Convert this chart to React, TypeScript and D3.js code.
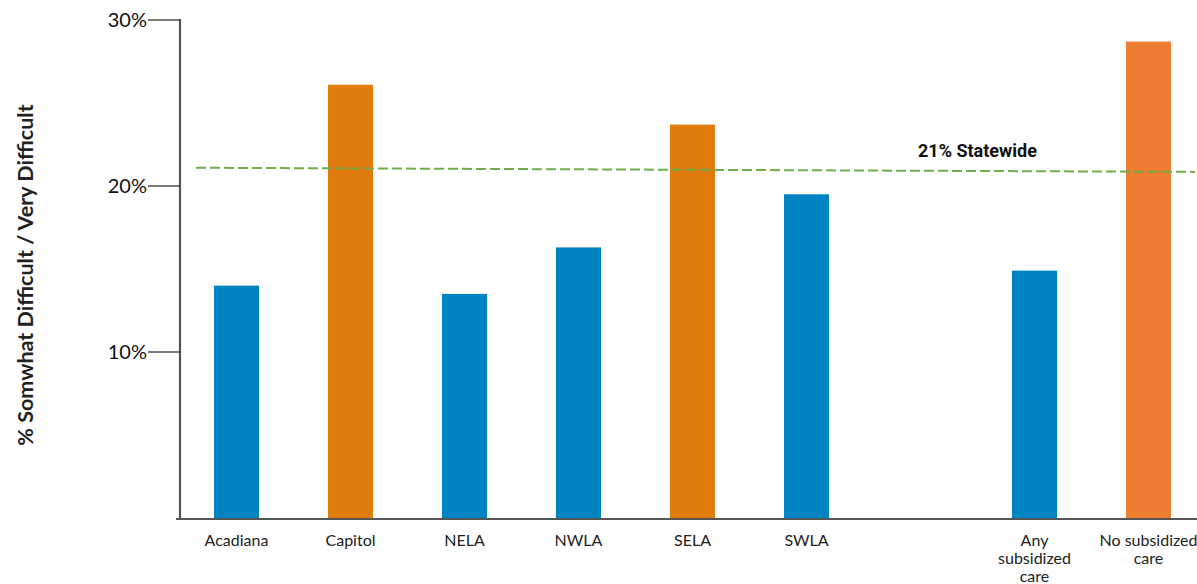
import React from "react";
import * as d3 from "d3";

const categories = ["Acadiana", "Capitol", "NELA", "NWLA", "SELA", "SWLA", "", "Any subsidized care", "No subsidized care"];
const labelLines: string[][] = [["Acadiana"], ["Capitol"], ["NELA"], ["NWLA"], ["SELA"], ["SWLA"], [], ["Any", "subsidized", "care"], ["No subsidized", "care"]];
const values: (number | null)[] = [14.0, 26.1, 13.5, 16.3, 23.7, 19.5, null, 14.9, 28.7];
const barColors = ["#0083C1", "#E07B10", "#0083C1", "#0083C1", "#E07B10", "#0083C1", "", "#0083C1", "#ED7D31"];
const yTicks = [10, 20, 30];
const statewideStart = 21.1;
const statewideEnd = 20.85;
const statewideLabel = "21% Statewide";
const yTitle = "% Somwhat Difficult / Very Difficult";

export default function App() {
  const W = 1197, H = 584;
  const x0 = 179.5;
  const keys = categories.map((c, i) => i + ":" + c);
  const x = d3.scaleBand<string>().domain(keys).range([x0, x0 + 9 * 114]).paddingInner(0.605).paddingOuter(0.3025);
  const y = d3.scaleLinear().domain([0, 30]).range([518, 20]);
  const bw = x.bandwidth();
  return (
    <svg width={W} height={H} style={{ position: "absolute", left: 0, top: 0, background: "#fff" }}>
      {values.map((v, i) =>
        v == null ? null : (
          <rect key={i} x={x(keys[i])!} y={y(v)} width={bw} height={y(0) - y(v)} fill={barColors[i]} />
        )
      )}
      <line x1={196} x2={1195} y1={y(statewideStart)} y2={y(statewideEnd)} stroke="#70AD47" strokeWidth={2} strokeDasharray="10 4" />
      <text x={918} y={157} fontFamily="Roboto" fontWeight={700} fontSize={18} fill="#111">{statewideLabel}</text>
      <line x1={180} x2={180} y1={y(30) - 1} y2={519} stroke="#555" strokeWidth={2.2} />
      <line x1={176} x2={1197} y1={519} y2={519} stroke="#555" strokeWidth={2.2} />
      {yTicks.map((t) => (
        <g key={t}>
          <line x1={148} x2={180} y1={y(t)} y2={y(t)} stroke="#222" strokeWidth={1.2} />
          <text x={147} y={y(t)} dy="0.35em" textAnchor="end" fontFamily="Lato" fontSize={20} fill="#111">{t}%</text>
        </g>
      ))}
      {labelLines.map((lines, i) =>
        lines.map((ln, j) => (
          <text key={i + "-" + j} x={x(keys[i])! + bw / 2} y={546 + j * 18} textAnchor="middle" fontFamily="Lato" fontSize={16} fill="#222">{ln}</text>
        ))
      )}
      <text transform={`translate(33,275) rotate(-90)`} textAnchor="middle" fontFamily="Lato" fontWeight={700} fontSize={21.5} fill="#222">{yTitle}</text>
    </svg>
  );
}
